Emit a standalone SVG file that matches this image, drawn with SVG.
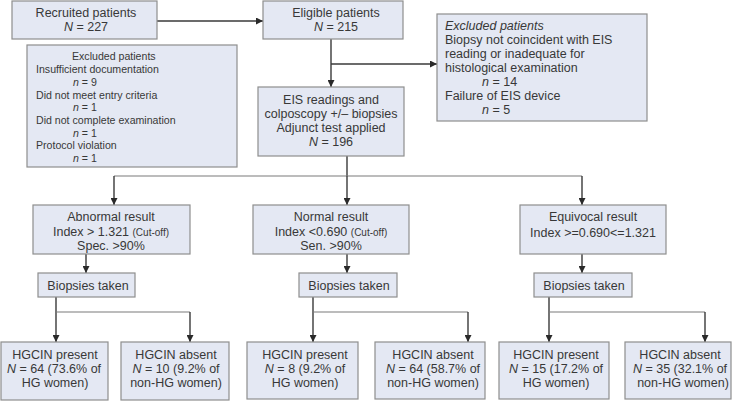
<svg xmlns="http://www.w3.org/2000/svg" width="736" height="403" viewBox="0 0 736 403">
<defs>
<style>
.box{fill:#e4e8f3;stroke:#8e8e8e;stroke-width:1.2}
text{font-family:"Liberation Sans",Arial,sans-serif;font-size:12.5px;fill:#383838}
.c{text-anchor:middle}
.sm{font-size:10.6px}
.co{font-size:10px}
.i{font-style:italic}
.ln{fill:none;stroke:#3a3a3a;stroke-width:1.4}
.br{fill:none;stroke:#7a7a7a;stroke-width:1.2}
</style>
<marker id="ah" viewBox="0 0 8 8" refX="8" refY="4" markerWidth="7" markerHeight="7" markerUnits="userSpaceOnUse" orient="auto">
<path d="M0,0 L8,4 L0,8 z" fill="#2a2a2a"/>
</marker>
</defs>
<rect width="736" height="403" fill="#ffffff"/>

<g id="connectors">
<path class="ln" d="M157,21 H263" marker-end="url(#ah)"/>
<path class="ln" d="M331,39 V87" marker-end="url(#ah)"/>
<path class="ln" d="M331,64 H437" marker-end="url(#ah)"/>
<path class="ln" d="M347,156 V176"/>
<path class="br" d="M114,176 H582"/>
<path class="ln" d="M114,176 V205" marker-end="url(#ah)"/>
<path class="ln" d="M347,176 V205" marker-end="url(#ah)"/>
<path class="ln" d="M582,176 V205" marker-end="url(#ah)"/>
<path class="ln" d="M86,254 V273" marker-end="url(#ah)"/>
<path class="ln" d="M347,254 V273" marker-end="url(#ah)"/>
<path class="ln" d="M582,254 V273" marker-end="url(#ah)"/>
<path class="ln" d="M56,297 V342" marker-end="url(#ah)"/>
<path class="br" d="M56,312 H190"/>
<path class="ln" d="M190,312 V342" marker-end="url(#ah)"/>
<path class="ln" d="M313,297 V342" marker-end="url(#ah)"/>
<path class="br" d="M313,312 H468"/>
<path class="ln" d="M468,312 V342" marker-end="url(#ah)"/>
<path class="ln" d="M549,297 V342" marker-end="url(#ah)"/>
<path class="br" d="M549,312 H705"/>
<path class="ln" d="M705,312 V342" marker-end="url(#ah)"/>
</g>

<g id="recruited">
<rect class="box" x="12" y="1" width="145" height="38"/>
<text class="c" x="86" y="17">Recruited patients</text>
<text class="c" x="86" y="31"><tspan class="i">N</tspan> = 227</text>
</g>

<g id="excluded-left">
<rect class="box" x="27" y="45" width="210" height="122"/>
<text class="sm" x="72" y="60">Excluded patients</text>
<text class="sm" x="36" y="73">Insufficient documentation</text>
<text class="sm" x="73" y="86"><tspan class="i">n</tspan> = 9</text>
<text class="sm" x="36" y="98.5">Did not meet entry criteria</text>
<text class="sm" x="73" y="111"><tspan class="i">n</tspan> = 1</text>
<text class="sm" x="36" y="123.5">Did not complete examination</text>
<text class="sm" x="73" y="136.5"><tspan class="i">n</tspan> = 1</text>
<text class="sm" x="36" y="149">Protocol violation</text>
<text class="sm" x="73" y="162"><tspan class="i">n</tspan> = 1</text>
</g>

<g id="eligible">
<rect class="box" x="263" y="1" width="140" height="38"/>
<text class="c" x="336" y="17">Eligible patients</text>
<text class="c" x="336" y="31"><tspan class="i">N</tspan> = 215</text>
</g>

<g id="excluded-right">
<rect class="box" x="437" y="14" width="210" height="107"/>
<text class="i" x="445" y="30">Excluded patients</text>
<text x="445" y="44">Biopsy not coincident with EIS</text>
<text x="445" y="58">reading or inadequate for</text>
<text x="445" y="72">histological examination</text>
<text x="482" y="86"><tspan class="i">n</tspan> = 14</text>
<text x="445" y="100">Failure of EIS device</text>
<text x="482" y="114"><tspan class="i">n</tspan> = 5</text>
</g>

<g id="eis">
<rect class="box" x="258" y="87" width="146" height="69"/>
<text class="c" x="331" y="104">EIS readings and</text>
<text class="c" x="331" y="118">colposcopy +/– biopsies</text>
<text class="c" x="331" y="132">Adjunct test applied</text>
<text class="c" x="331" y="146"><tspan class="i">N</tspan> = 196</text>
</g>

<g id="abnormal">
<rect class="box" x="33" y="205" width="157" height="49"/>
<text class="c" x="111" y="221">Abnormal result</text>
<text class="c" x="111" y="236">Index &gt; 1.321 <tspan class="co">(Cut-off)</tspan></text>
<text class="c" x="111" y="250">Spec. &gt;90%</text>
</g>

<g id="normal">
<rect class="box" x="253" y="205" width="156" height="49"/>
<text class="c" x="331" y="221">Normal result</text>
<text class="c" x="331" y="236">Index &lt;0.690 <tspan class="co">(Cut-off)</tspan></text>
<text class="c" x="331" y="250">Sen. &gt;90%</text>
</g>

<g id="equivocal">
<rect class="box" x="520" y="205" width="146" height="49"/>
<text class="c" x="593" y="221">Equivocal result</text>
<text class="c" x="593" y="237">Index &gt;=0.690&lt;=1.321</text>
</g>

<g id="biopsies-abnormal">
<rect class="box" x="38" y="273" width="97" height="24"/>
<text class="c" x="88" y="290">Biopsies taken</text>
</g>
<g id="biopsies-normal">
<rect class="box" x="299" y="273" width="98" height="24"/>
<text class="c" x="349" y="290">Biopsies taken</text>
</g>
<g id="biopsies-equivocal">
<rect class="box" x="534" y="273" width="98" height="24"/>
<text class="c" x="584" y="290">Biopsies taken</text>
</g>

<g id="present-abnormal">
<rect class="box" x="1" y="342" width="107" height="58"/>
<text class="c" x="55" y="359">HGCIN present</text>
<text class="c" x="54" y="373"><tspan class="i">N</tspan> = 64 (73.6% of</text>
<text class="c" x="55" y="387">HG women)</text>
</g>
<g id="absent-abnormal">
<rect class="box" x="121" y="342" width="108" height="58"/>
<text class="c" x="176" y="359">HGCIN absent</text>
<text class="c" x="176" y="373"><tspan class="i">N</tspan> = 10 (9.2% of</text>
<text class="c" x="176" y="387">non-HG women)</text>
</g>
<g id="present-normal">
<rect class="box" x="247" y="342" width="111" height="57"/>
<text class="c" x="305" y="359">HGCIN present</text>
<text class="c" x="305" y="373"><tspan class="i">N</tspan> = 8 (9.2% of</text>
<text class="c" x="305" y="387">HG women)</text>
</g>
<g id="absent-normal">
<rect class="box" x="375" y="342" width="110" height="57"/>
<text class="c" x="433" y="359">HGCIN absent</text>
<text class="c" x="433" y="373"><tspan class="i">N</tspan> = 64 (58.7% of</text>
<text class="c" x="433" y="387">non-HG women)</text>
</g>
<g id="present-equivocal">
<rect class="box" x="499" y="342" width="110" height="57"/>
<text class="c" x="556" y="359">HGCIN present</text>
<text class="c" x="556" y="373"><tspan class="i">N</tspan> = 15 (17.2% of</text>
<text class="c" x="556" y="387">HG women)</text>
</g>
<g id="absent-equivocal">
<rect class="box" x="625" y="342" width="106" height="57"/>
<text class="c" x="680" y="359">HGCIN absent</text>
<text class="c" x="680" y="373"><tspan class="i">N</tspan> = 35 (32.1% of</text>
<text class="c" x="683" y="387">non-HG women)</text>
</g>
</svg>
